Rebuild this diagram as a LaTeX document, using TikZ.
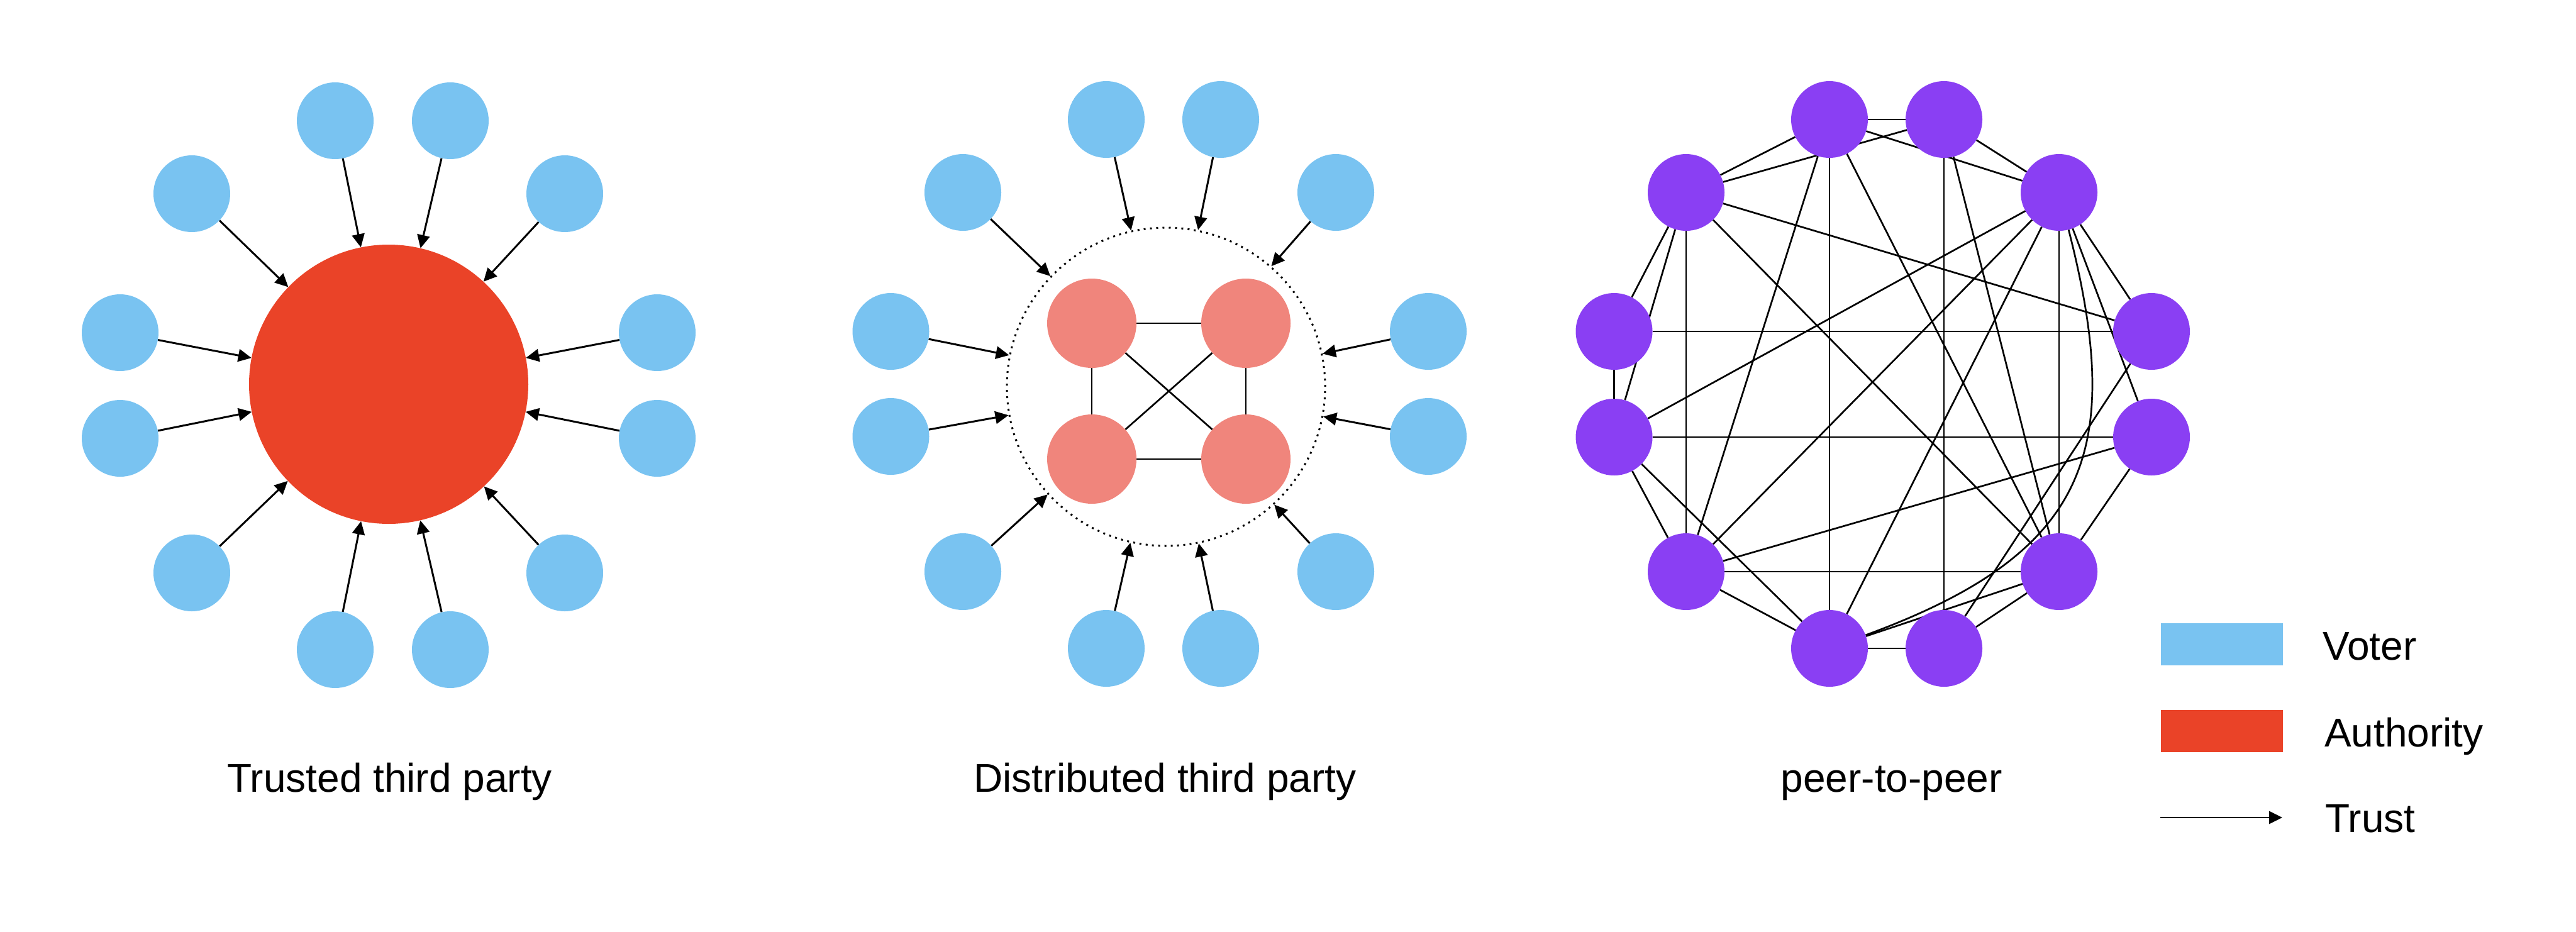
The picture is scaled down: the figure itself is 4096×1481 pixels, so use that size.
\documentclass[tikz,border=0pt]{standalone}
\usepackage{fontspec}
\setmainfont{Liberation Sans}
\usetikzlibrary{arrows.meta}
\pgfdeclarelayer{bg}
\pgfsetlayers{bg,main}
\definecolor{voterc}{HTML}{79C3F1}
\definecolor{authc}{HTML}{EA4328}
\definecolor{salmonc}{HTML}{F0857C}
\definecolor{peerc}{HTML}{8A3FF3}
\begin{document}
\begin{tikzpicture}[x=1pt,y=-1pt,
  voter/.style={circle, fill=voterc, minimum size=122pt, inner sep=0pt},
  peer/.style={circle, fill=peerc, minimum size=122pt, inner sep=0pt},
  authnode/.style={circle, fill=authc, minimum size=444pt, inner sep=0pt},
  member/.style={circle, fill=salmonc, minimum size=142pt, inner sep=0pt},
  ringnode/.style={circle, minimum size=506pt, inner sep=0pt, draw=black, line width=3pt, dash pattern=on 3pt off 7pt},
  trust/.style={line width=3pt, -{Triangle[length=21pt,width=20pt]}},
  edge/.style={line width=2.7pt},
  lbl/.style={font=\fontsize{64pt}{70pt}\selectfont, inner sep=0pt},
  legrect/.style={rectangle, minimum width=194pt, minimum height=67pt, inner sep=0pt}
]
\useasboundingbox (0,0) rectangle (4096,1481);

% ---------- Panel 1: trusted third party ----------
\node[authnode] (auth) at (618,611) {};
\foreach \n/\x/\y in {1/533/192, 2/716/192, 3/305/308, 4/898/308, 5/191/529, 6/1045/529,
                      7/191/697, 8/1045/697, 9/305/911, 10/898/911, 11/533/1033, 12/716/1033}
  \node[voter] (pa\n) at (\x,\y) {};
\begin{pgfonlayer}{bg}
  \foreach \n in {1,...,12} \draw[trust] (pa\n) -- (auth);
\end{pgfonlayer}
\node[lbl, anchor=base] (t1) at (619.5,1259) {Trusted third party};

% ---------- Panel 2: distributed third party ----------
\node[ringnode] (ring) at (1854,615) {};
\node[member] (m1) at (1736,514) {};
\node[member] (m2) at (1981,514) {};
\node[member] (m3) at (1736,730) {};
\node[member] (m4) at (1981,730) {};
\foreach \n/\x/\y in {1/1759/190, 2/1941/190, 3/1531/306, 4/2124/306, 5/1416.5/527, 6/2271/527,
                      7/1416.5/694, 8/2271/694, 9/1531/909, 10/2124/909, 11/1759/1031, 12/1941/1031}
  \node[voter] (pb\n) at (\x,\y) {};
\begin{pgfonlayer}{bg}
  \foreach \n in {1,...,12} \draw[trust] (pb\n) -- (ring);
  \foreach \a/\b in {m1/m2, m3/m4, m1/m3, m2/m4, m1/m4, m2/m3} \draw[edge] (\a) -- (\b);
\end{pgfonlayer}
\node[lbl, anchor=base] (t2) at (1852.6,1259) {Distributed third party};

% ---------- Panel 3: peer-to-peer ----------
\foreach \n/\x/\y in {A/2909/190, B/3091/190, C/3274/306, D/3421/527, E/3421/695, F/3274/909,
                      G/3091/1031, H/2909/1031, I/2681/909, J/2566.5/695, K/2566.5/527, L/2681/306}
  \node[peer] (p\n) at (\x,\y) {};
\begin{pgfonlayer}{bg}
  \foreach \a/\b in {A/B, A/L, B/L, A/C, B/C, A/H, B/G, C/F, L/I, K/J, K/D, J/E, I/F, H/G,
                     L/K, L/J, L/D, L/F, A/I, A/F, B/F, C/J, C/I, C/H, C/D, C/E, D/G, E/F,
                     E/I, F/G, F/H, J/I, J/H, I/H}
    \draw[edge] (p\a) -- (p\b);
  \draw[edge] (pC) .. controls (3380,720) and (3320,880) .. (pH);
\end{pgfonlayer}
\node[lbl, anchor=base] (t3) at (3007.8,1259) {peer-to-peer};

% ---------- Legend ----------
\node[legrect, fill=voterc] (lv) at (3533,1024.5) {};
\node[legrect, fill=authc] (la) at (3533,1162) {};
\coordinate (ls) at (3435,1300);
\coordinate (le) at (3629,1300);
\draw[line width=2.7pt, -{Triangle[length=21pt,width=20pt]}] (ls) -- (le);
\node[lbl, anchor=base west] (lvt) at (3693,1049) {Voter};
\node[lbl, anchor=base west] (lat) at (3696,1187) {Authority};
\node[lbl, anchor=base west] (ltt) at (3697,1323) {Trust};
\end{tikzpicture}
\end{document}
